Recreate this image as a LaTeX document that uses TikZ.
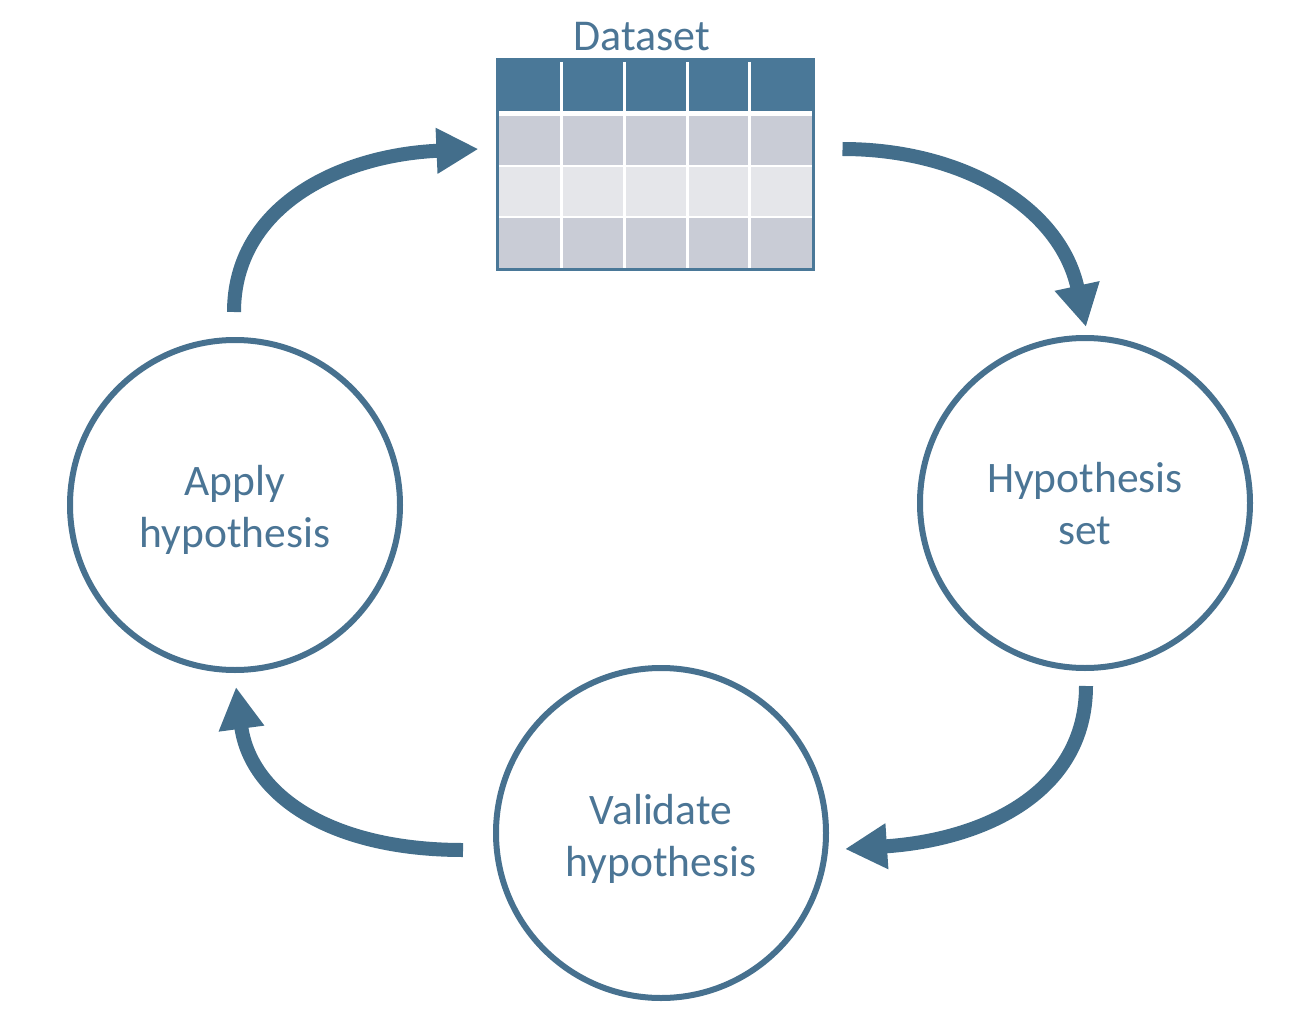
\documentclass[tikz,border=0pt]{standalone}
\usepackage{fontspec}
\setmainfont{Carlito}
\usetikzlibrary{arrows.meta,calc}
\definecolor{arrowcol}{HTML}{436E8B}
\definecolor{circlecol}{HTML}{47718F}
\definecolor{textcol}{HTML}{4B7595}
\definecolor{headcol}{HTML}{4A7898}
\definecolor{rowdark}{HTML}{C9CCD6}
\definecolor{rowlight}{HTML}{E5E6EA}
\tikzset{
  stagecircle/.style={circle, draw=circlecol, line width=6pt, minimum size=330pt,
    inner sep=0pt},
  stagetext/.style={text=textcol, align=center, yshift=-5pt,
    font=\fontsize{43.5pt}{52pt}\selectfont},
  flowarrow/.style={draw=arrowcol, line width=14pt,
    -{Triangle[length=42pt,width=43pt]}},
  celldiv/.style={draw=white, line width=3pt},
}
\begin{document}
\begin{tikzpicture}[x=1pt,y=-1pt]
\useasboundingbox (0,0) rectangle (1302,1030);

% Dataset table
\fill[headcol] (497,60) rectangle (813,112);
\fill[rowdark] (497,115) rectangle (813,166);
\fill[rowlight] (497,166) rectangle (813,217);
\fill[rowdark] (497,217) rectangle (813,269);
\draw[draw=white, line width=5pt] (497,114) -- (813,114);
\foreach \yy in {166,217} \draw[celldiv, line width=2.5pt] (497,\yy) -- (813,\yy);
\foreach \xx in {561,624,687,749} \draw[celldiv] (\xx,62) -- (\xx,268);
\node[draw=headcol, line width=3pt, minimum width=316pt, minimum height=209pt,
  inner sep=0pt] (dataset) at (655,164.5) {};
\node[text=textcol, font=\fontsize{44pt}{52pt}\selectfont] (dslabel) at (642,37) {Dataset};

% Stage circles
\node[stagecircle, label={[stagetext, yshift=4pt]center:Hypothesis\\set}] (hypset) at (1085,503) {};
\node[stagecircle, label={[stagetext, yshift=-1pt]center:Validate\\hypothesis}] (validate) at (661,833) {};
\node[stagecircle, label={[stagetext]center:Apply\\hypothesis}] (apply) at (235,505) {};

% Cycle arrows
\draw[flowarrow] ($(dataset.east)+(28,-15.5)$)
  .. controls +(120,0) and +(-26,-120) .. ($(hypset.north)+(1,-8)$);
\draw[flowarrow] ($(hypset.south)+(1,15)$)
  .. controls +(0,107) and +(138,-9) .. ($(validate.east)+(16,16)$);
\draw[flowarrow] ($(validate.west)+(-30,17)$)
  .. controls +(-136,0) and +(14,106) .. ($(apply.south)+(1,14)$);
\draw[flowarrow] ($(apply.north)+(-1,-25)$)
  .. controls +(0,-105) and +(-140,6) .. ($(dataset.west)+(-17,-15.5)$);
\end{tikzpicture}
\end{document}
